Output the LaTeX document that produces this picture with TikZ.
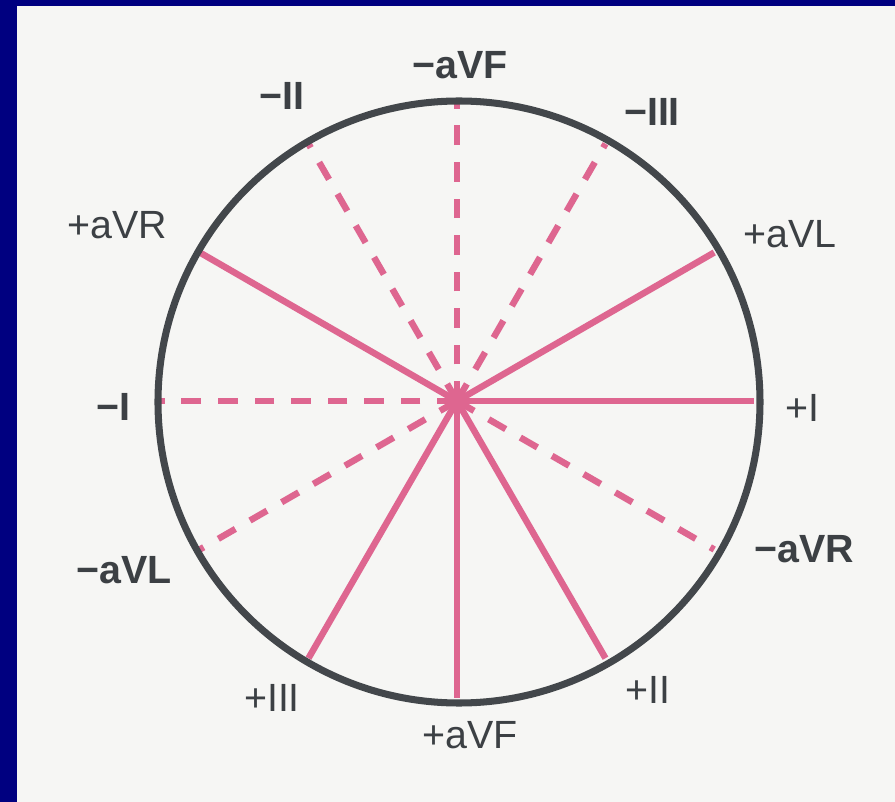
\documentclass[tikz,border=0pt]{standalone}
\usepackage{fontspec}
\setmainfont{Liberation Sans}
\usepackage{tikz}
\usetikzlibrary{positioning}
\usepackage{xcolor}
\definecolor{frameblue}{HTML}{000080}
\definecolor{paper}{HTML}{F6F6F4}
\definecolor{rim}{HTML}{43474B}
\definecolor{leadpink}{HTML}{DE6690}

\begin{document}
\begin{tikzpicture}[
    x=0.025cm, y=0.025cm,
    posaxis/.style={draw=leadpink, line width=4.6pt},
    negaxis/.style={draw=leadpink, line width=4.6pt, dash pattern=on 14pt off 12pt},
    poslabel/.style={text=rim!90!black, font=\fontsize{28}{32}\selectfont, inner sep=0pt},
    neglabel/.style={text=rim!90!black, font=\fontsize{28}{32}\selectfont\bfseries, inner sep=0pt}
]
    % Cornice blu e foglio
    \fill[frameblue] (-457,-401) rectangle (438,401);
    \fill[paper] (-440,-401) rectangle (438,395);
    \useasboundingbox (-457,-401) rectangle (438,401);

    % Centro e estremi degli assi
    \coordinate (hub) at (0,0);
    \coordinate (eIp)   at (0:297);
    \coordinate (eaVLp) at (30:297);
    \coordinate (eIIIn) at (60:297);
    \coordinate (eaVFn) at (90:297);
    \coordinate (eIIn)  at (120:297);
    \coordinate (eaVRp) at (150:297);
    \coordinate (eIn)   at (180:297);
    \coordinate (eaVLn) at (210:297);
    \coordinate (eIIIp) at (240:297);
    \coordinate (eaVFp) at (270:297);
    \coordinate (eIIp)  at (300:297);
    \coordinate (eaVRn) at (330:297);

    % Assi negativi (tratteggiati)
    \draw[negaxis] (hub) -- (eIIIn);
    \draw[negaxis] (hub) -- (eaVFn);
    \draw[negaxis] (hub) -- (eIIn);
    \draw[negaxis] (hub) -- (eIn);
    \draw[negaxis] (hub) -- (eaVLn);
    \draw[negaxis] (hub) -- (eaVRn);

    % Assi positivi (continui)
    \draw[posaxis] (hub) -- (eIp);
    \draw[posaxis] (hub) -- (eaVLp);
    \draw[posaxis] (hub) -- (eaVRp);
    \draw[posaxis] (hub) -- (eIIIp);
    \draw[posaxis] (hub) -- (eaVFp);
    \draw[posaxis] (hub) -- (eIIp);
    \fill[leadpink] (hub) circle (9);

    % Cerchio esterno
    \draw[rim, line width=5pt] (2,-1) circle (301);

    % Etichette delle derivazioni
    \node[neglabel] (laVFn) at (3,336) {−aVF};
    \node[neglabel] (lIIn)  at (-175,305) {−II};
    \node[neglabel] (lIIIn) at (195,289) {−III};
    \node[poslabel] (laVRp) at (-340,176) {+aVR};
    \node[poslabel] (laVLp) at (333,167) {+aVL};
    \node[neglabel] (lIn)   at (-344,-6) {−I};
    \node[poslabel] (lIp)   at (345,-7) {+I};
    \node[neglabel] (laVLn) at (-333,-169) {−aVL};
    \node[neglabel] (laVRn) at (347,-148) {−aVR};
    \node[poslabel] (lIIIp) at (-185,-297) {+III};
    \node[poslabel] (lIIp)  at (191,-289) {+II};
    \node[poslabel] (laVFp) at (13,-334) {+aVF};
\end{tikzpicture}
\end{document}
